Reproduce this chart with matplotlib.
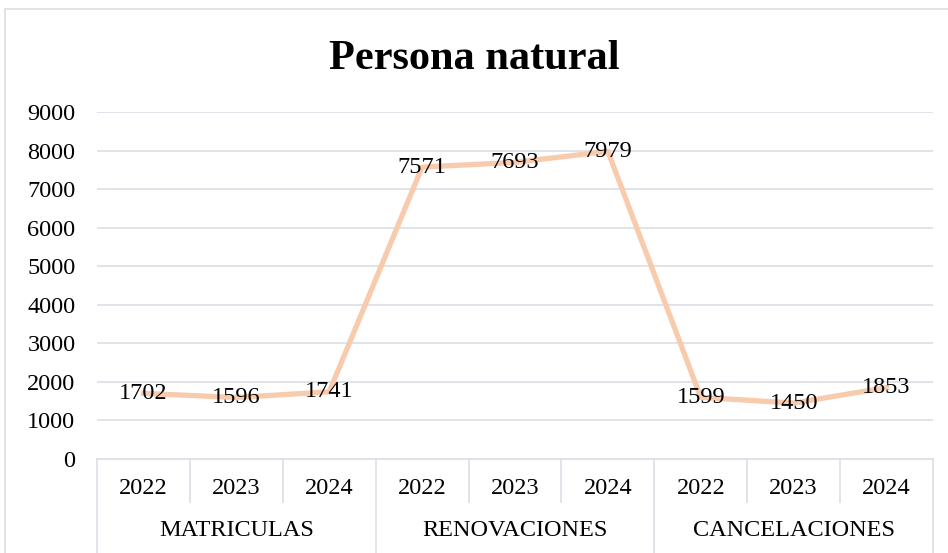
import matplotlib
matplotlib.use("Agg")
import matplotlib.pyplot as plt
from matplotlib.transforms import blended_transform_factory
from matplotlib.patches import Rectangle

groups = ["MATRICULAS", "RENOVACIONES", "CANCELACIONES"]
years = ["2022", "2023", "2024"]
values = [1702, 1596, 1741, 7571, 7693, 7979, 1599, 1450, 1853]
title = "Persona natural"
yticks = list(range(0, 10000, 1000))

plt.rcParams['font.family'] = ['Liberation Serif', 'DejaVu Serif']

FS = 17.5
GRID = '#DDE1E7'
W, H = 948, 553
fig = plt.figure(figsize=(W / 100, H / 100), dpi=100)
fig.patches.append(Rectangle((5 / W, -0.05), 1.1, 1 - 9 / H + 0.05, transform=fig.transFigure,
                             fill=False, edgecolor=GRID, linewidth=1.3))

left, right, top, bottom = 97, 933, 112, 459
ax = fig.add_axes([left / W, 1 - bottom / H, (right - left) / W, (bottom - top) / H])

n = len(values)
x = list(range(n))
ax.plot(x, values, color='#F8CBAD', linewidth=3.8, solid_joinstyle='round', zorder=3)
for xi, v in zip(x, values):
    ax.text(xi, v, str(v), ha='center', va='center', fontsize=FS, color='black', zorder=4)

ax.set_xlim(-0.5, n - 0.5)
ax.set_ylim(0, 9000)
ax.set_yticks(yticks)
ax.set_yticklabels([str(t) for t in yticks], fontsize=FS)
ax.tick_params(axis='y', length=0, pad=15.5)
ax.set_xticks([])
for s in ['left', 'right', 'top']:
    ax.spines[s].set_visible(False)
ax.spines['bottom'].set_color(GRID)
ax.spines['bottom'].set_linewidth(1.3)
ax.grid(axis='y', color=GRID, linewidth=1.3)
ax.set_axisbelow(True)

trans = blended_transform_factory(ax.transData, ax.transAxes)
h = bottom - top
y_year = -(489 - bottom) / h
y_group = -(530 - bottom) / h
y_short = -(502 - bottom) / h
y_long = -(560 - bottom) / h

k = len(years)
labels = [years[i % k] for i in range(n)]
for xi, lab in zip(x, labels):
    ax.text(xi, y_year, lab, transform=trans, ha='center', va='center', fontsize=FS, clip_on=False)
for gi, g in enumerate(groups):
    ax.text(gi * k + (k - 1) / 2, y_group, g, transform=trans, ha='center', va='center', fontsize=FS, clip_on=False)
for b in range(n + 1):
    xb = b - 0.5
    yend = y_long if b % k == 0 else y_short
    ax.plot([xb, xb], [0, yend], transform=trans, color=GRID, linewidth=1.3, clip_on=False)

fig.text(0.5, 1 - 59 / H, title, ha='center', va='center', fontsize=30.5, fontweight='bold')

fig.savefig("out.png", dpi=100)
